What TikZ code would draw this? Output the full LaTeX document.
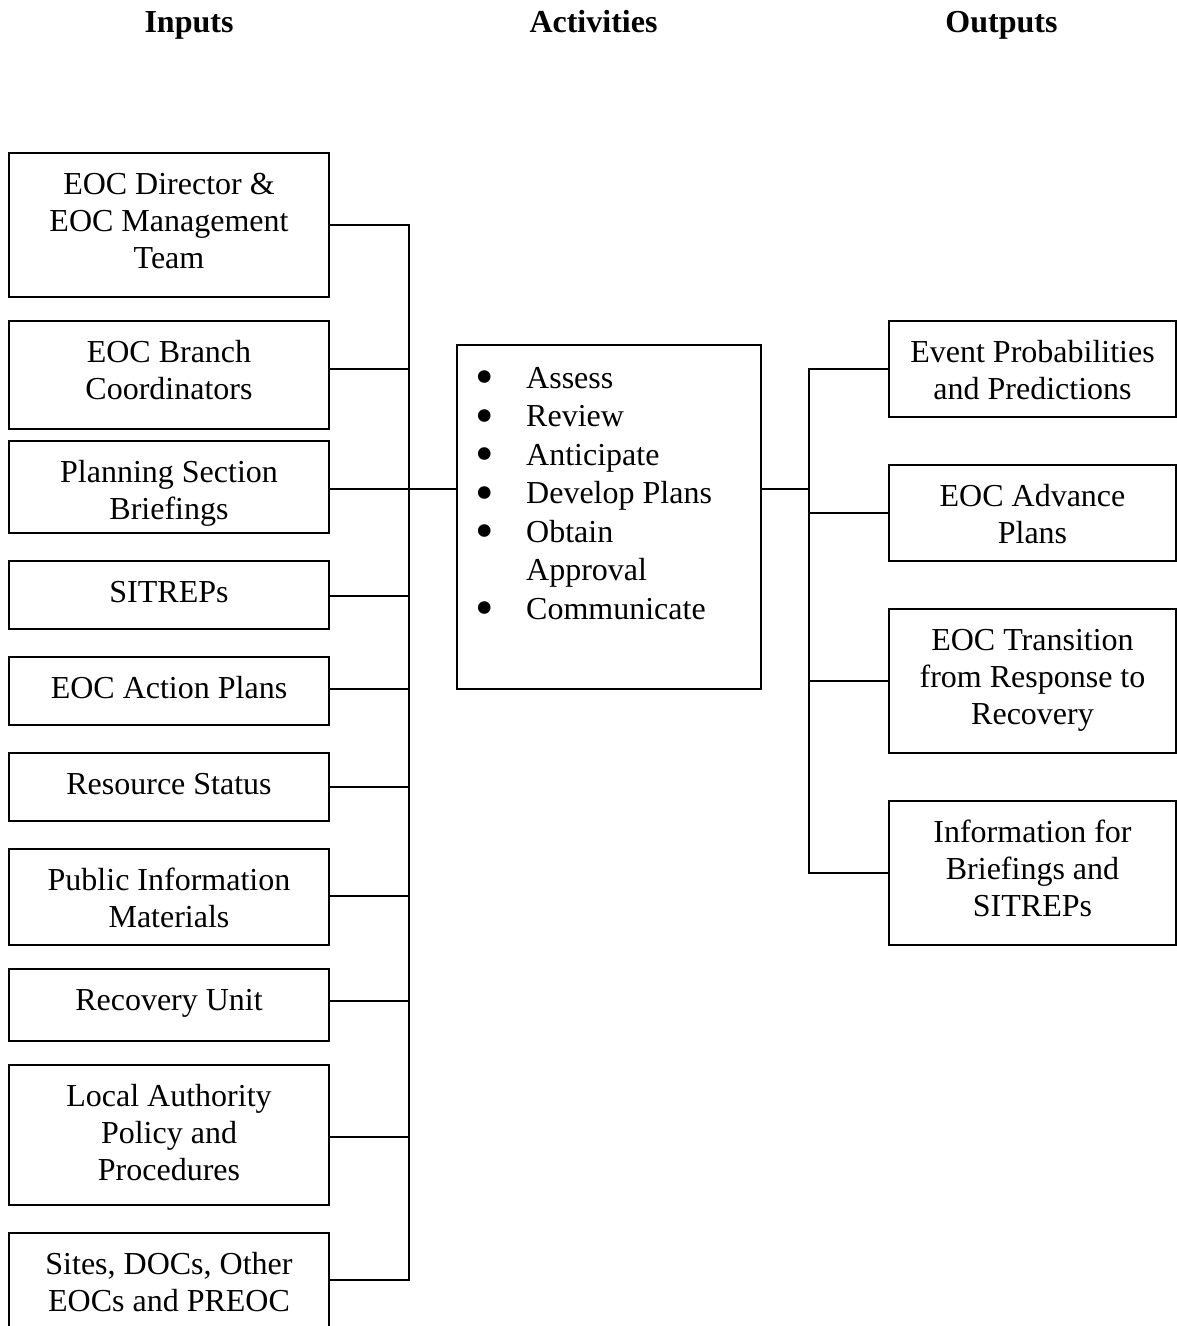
\documentclass[tikz,border=0pt]{standalone}
\usepackage{fontspec}
\setmainfont{Liberation Serif}
% centred multi-line text whose baseline is that of its first line
\newcommand\mlines[1]{\begin{tabular}[t]{@{}c@{}}#1\end{tabular}}
% list bullet, enlarged and centred in an 11pt slot
\newcommand\bul{\makebox[11pt][c]{\smash{\raisebox{-6.5pt}{\scalebox{1.65}{•}}}}}
\begin{document}
\begin{tikzpicture}[x=1pt,y=-1pt,
  box/.style={draw, line width=2.4pt, inner sep=0pt, outer sep=0pt},
  inbox/.style={box, minimum width=320pt},
  outbox/.style={box, minimum width=287pt},
  lbl/.style={inner sep=0pt, anchor=base, font=\fontsize{32}{36.8}\selectfont},
  head/.style={inner sep=0pt, anchor=base, font=\fontsize{32}{36.8}\selectfont\bfseries},
  wire/.style={line width=2pt}]
\useasboundingbox (0,0) rectangle (1177,1326);
\clip (0,0) rectangle (1177,1326);

% column headings
\node[head] (hin)  at (189,32)    {Inputs};
\node[head] (hact) at (593.5,32)  {Activities};
\node[head] (hout) at (1001.5,32) {Outputs};

% input boxes
\node[inbox, minimum height=144pt] (in1)  at (169,225)  {};
\node[inbox, minimum height=108pt] (in2)  at (169,375)  {};
\node[inbox, minimum height=92pt]  (in3)  at (169,487)  {};
\node[inbox, minimum height=68pt]  (in4)  at (169,595)  {};
\node[inbox, minimum height=68pt]  (in5)  at (169,691)  {};
\node[inbox, minimum height=68pt]  (in6)  at (169,787)  {};
\node[inbox, minimum height=96pt]  (in7)  at (169,897)  {};
\node[inbox, minimum height=72pt]  (in8)  at (169,1005) {};
\node[inbox, minimum height=140pt] (in9)  at (169,1135) {};
\node[inbox, minimum height=108pt] (in10) at (169,1287) {};

\node[lbl] (in1t)  at ([yshift=-41.5pt]in1.north)  {\mlines{EOC Director \&\\EOC Management\\Team}};
\node[lbl] (in2t)  at ([yshift=-41.5pt]in2.north)  {\mlines{EOC Branch\\Coordinators}};
\node[lbl] (in3t)  at ([yshift=-41.5pt]in3.north)  {\mlines{Planning Section\\Briefings}};
\node[lbl] (in4t)  at ([yshift=-41.5pt]in4.north)  {SITREPs};
\node[lbl] (in5t)  at ([yshift=-41.5pt]in5.north)  {EOC Action Plans};
\node[lbl] (in6t)  at ([yshift=-41.5pt]in6.north)  {Resource Status};
\node[lbl] (in7t)  at ([yshift=-41.5pt]in7.north)  {\mlines{Public Information\\Materials}};
\node[lbl] (in8t)  at ([yshift=-41.5pt]in8.north)  {Recovery Unit};
\node[lbl] (in9t)  at ([yshift=-41.5pt]in9.north)  {\mlines{Local Authority\\Policy and\\Procedures}};
\node[lbl] (in10t) at ([yshift=-41.5pt]in10.north) {\mlines{Sites, DOCs, Other\\EOCs and PREOC}};

% activities box
\node[box, minimum width=304pt, minimum height=344pt] (act) at (609,517) {};
\node[inner sep=0pt, anchor=base west, font=\fontsize{32}{38.5}\selectfont] (actlist) at (479.5,388.3)
  {\begin{tabular}[t]{@{}p{46.5pt}@{}l@{}}
   \bul & Assess\\
   \bul & Review\\
   \bul & Anticipate\\
   \bul & Develop Plans\\
   \bul & Obtain\\
        & Approval\\
   \bul & Communicate
   \end{tabular}};

% output boxes
\node[outbox, minimum height=96pt]  (out1) at (1032.5,369) {};
\node[outbox, minimum height=96pt]  (out2) at (1032.5,513) {};
\node[outbox, minimum height=144pt] (out3) at (1032.5,681) {};
\node[outbox, minimum height=144pt] (out4) at (1032.5,873) {};

\node[lbl] (out1t) at ([yshift=-41.5pt]out1.north) {\mlines{Event Probabilities\\and Predictions}};
\node[lbl] (out2t) at ([yshift=-41.5pt]out2.north) {\mlines{EOC Advance\\Plans}};
\node[lbl] (out3t) at ([yshift=-41.5pt]out3.north) {\mlines{EOC Transition\\from Response to\\Recovery}};
\node[lbl] (out4t) at ([yshift=-41.5pt]out4.north) {\mlines{Information for\\Briefings and\\SITREPs}};

% input bus junctions
\coordinate (j1)  at (409,225);
\coordinate (j2)  at (409,369);
\coordinate (j3)  at (409,489);
\coordinate (j4)  at (409,596);
\coordinate (j5)  at (409,689);
\coordinate (j6)  at (409,787);
\coordinate (j7)  at (409,896);
\coordinate (j8)  at (409,1001);
\coordinate (j9)  at (409,1137);
\coordinate (j10) at (409,1280);

\draw[wire] (in1.east |- j1) -- (j1) -- (j10) -- (in10.east |- j10);
\foreach \k in {2,...,9} \draw[wire] (in\k.east |- j\k) -- (j\k);
\draw[wire] (j3) -- (act.west |- j3);

% output bus
\coordinate (k0) at (809,489);
\coordinate (k1) at (809,369);
\coordinate (k4) at (809,873);
\draw[wire] (act.east |- k0) -- (k0);
\draw[wire] (out1.west) -- (k1) -- (k4) -- (out4.west);
\draw[wire] (out2.west) -- (out2.west -| k0);
\draw[wire] (out3.west) -- (out3.west -| k0);
\end{tikzpicture}
\end{document}
